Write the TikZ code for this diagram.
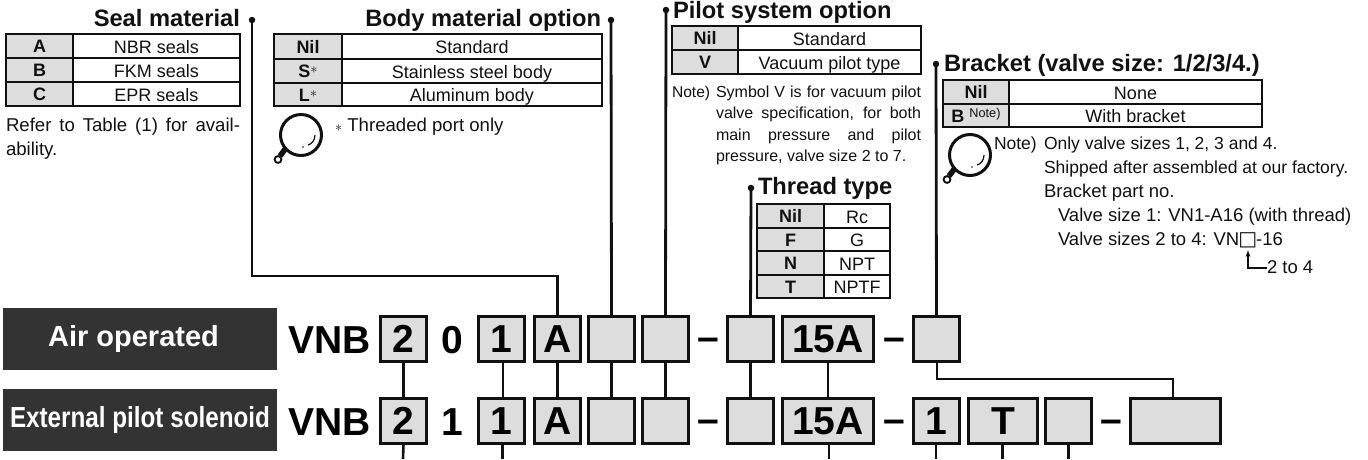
\documentclass[tikz,border=0pt]{standalone}
\usepackage{fontspec}
\setmainfont{Liberation Sans}
\newfontfamily\djv{DejaVu Sans}
\definecolor{keyfill}{HTML}{DDDDDD}
\definecolor{darkfill}{HTML}{333333}
\definecolor{ink}{HTML}{111111}
\newcommand\fsz[1]{\fontsize{#1}{#1}\selectfont}
\newcount\cellno
\tikzset{
  plain/.style={inner sep=0pt,outer sep=0pt,text=ink},
  tabline/.style={draw=ink,line width=1.2pt},
  tabtop/.style={draw=ink,line width=2.2pt},
  keytext/.style={plain,anchor=base,font=\fsz{18}\bfseries},
  valtext/.style={plain,anchor=base,font=\fsz{18}},
  title/.style={plain,anchor=base west,font=\fsz{23.7}\bfseries},
  titler/.style={plain,anchor=base east,font=\fsz{23.7}\bfseries},
  linetext/.style={plain,anchor=base west,font=\fsz{18.6}},
  notetext/.style={plain,anchor=base west,font=\fsz{16}},
  brtext/.style={plain,anchor=base west,font=\fsz{17.5}},
  brwide/.style={plain,anchor=base west,font=\fsz{18.5}},
  leaddot/.style={circle,fill=ink,minimum size=6.5pt,inner sep=0pt,outer sep=0pt},
  leader/.style={draw=ink,line width=2.8pt},
  link/.style={draw=ink,line width=2.6pt},
  rowbox/.style={draw=ink,fill=keyfill,line width=2.7pt,inner sep=0pt,outer sep=0pt,
    minimum height=45.3pt,text=black,font=\fsz{39}\bfseries,text height=27.9pt,text depth=0pt,align=center},
  rowtext/.style={plain,text=black,anchor=base,font=\fsz{39}\bfseries},
  banner/.style={fill=darkfill,inner sep=0pt,outer sep=0pt,text=white,font=\fsz{29}\bfseries,
    minimum width=274pt,minimum height=62pt}
}
% x0 xdiv x1 y0 y1 key value
\newcommand\trow[7]{%
  \fill[keyfill] (#1,#4) rectangle (#2,#5);
  \draw[tabline] (#1,#4) rectangle (#3,#5);
  \draw[tabline] (#2,#4) -- (#2,#5);
  \global\advance\cellno by 1
  \node[keytext] (k\the\cellno) at ({(#1+#2)/2},{(#4+#5)/2+6.6}) {#6};
  \node[valtext] (v\the\cellno) at ({(#2+#3)/2},{(#4+#5)/2+7}) {#7};
}
\newcommand\lens[2]{%
  \begin{scope}[shift={(#1,#2)}]
    \draw[ink,line width=5.5pt] (-15,13) -- (-21,21);
    \draw[ink,line width=1.9pt,fill=white] (-23,24.5) circle (3.4);
    \draw[ink,line width=3pt,fill=white] (0,0) circle (20.5);
    \draw[ink,line width=1.2pt] (14,0) .. controls (14,5) and (11,9) .. (7,10);
    \fill[ink] (2,12) circle (0.8);
  \end{scope}
}
\newcommand\boxat[5]{\node[rowbox,minimum width={#3-#2-2.7}] (#1) at ({(#2+#3)/2},#4) {#5};}
\newcommand\astr{\raisebox{4pt}{\mdseries\fsz{15}$*$}}
\begin{document}
\begin{tikzpicture}[x=1pt,y=-1pt]
\useasboundingbox (0,0) rectangle (1368,459);
% ---- banners
\node[banner] (air) at (140,339) {Air operated\kern13pt};
\node[banner] (ext) at (140,420) {\scalebox{.836}[1]{External pilot solenoid}};
% ---- code row 1
\node[rowtext] (vnbA) at (329.5,353) {VNB};
\boxat{a2}{379}{428}{339}{2}
\node[rowtext] (zero) at (452.5,353) {0};
\boxat{a1}{477}{526}{339}{1}
\boxat{aA}{533}{582}{339}{A}
\boxat{aB}{587}{636}{339}{}
\boxat{aP}{641}{690}{339}{}
\node[rowtext] (dashA) at (708,350) {–};
\boxat{aT}{726}{775}{339}{}
\boxat{a15}{781}{875}{339}{15A}
\node[rowtext] (dashB) at (894,350) {–};
\boxat{aK}{912}{961}{339}{}
% ---- code row 2
\node[rowtext] (vnbB) at (329.5,435) {VNB};
\boxat{b2}{379}{428}{421}{2}
\node[rowtext] (one) at (452.5,435) {1};
\boxat{b1}{477}{526}{421}{1}
\boxat{bA}{533}{582}{421}{A}
\boxat{bB}{587}{636}{421}{}
\boxat{bP}{641}{690}{421}{}
\node[rowtext] (dashC) at (708,432) {–};
\boxat{bT}{726}{775}{421}{}
\boxat{b15}{781}{875}{421}{15A}
\node[rowtext] (dashD) at (894,432) {–};
\boxat{bS}{912}{961}{421}{1}
\boxat{bV}{967}{1039}{421}{T}
\boxat{bW}{1044}{1093}{421}{}
\node[rowtext] (dashE) at (1111.5,432) {–};
\boxat{bX}{1129}{1222}{421}{}
% ---- links between rows
\draw[link] (a2.south) -- (b2.north);
\draw[link] ([xshift=1.5pt]a1.south) -- ([xshift=1.5pt]b1.north);
\draw[link] (aA.south) -- (bA.north);
\draw[link] (aB.south) -- (bB.north);
\draw[link] (aP.south) -- (bP.north);
\draw[link] (aT.south) -- (bT.north);
\draw[link] (a15.south) -- (b15.north);
\coordinate (elbow) at (937,379);
\draw[leader] ([xshift=.5pt]aK.south) -- ([xshift=.5pt]aK.south |- elbow) -| ([xshift=-2.5pt]bX.north);
% ---- free ends at the bottom
\coordinate (e1) at (403,459); \coordinate (e2) at (502.5,459); \coordinate (e3) at (829,459);
\coordinate (e4) at (936,459); \coordinate (e5) at (1002.5,459); \coordinate (e6) at (1068.5,459);
\draw[link] (b2.south) -- (e1);
\draw[link] (b1.south -| e2) -- (e2);
\draw[link] (b15.south -| e3) -- (e3);
\draw[link] (bS.south -| e4) -- (e4);
\draw[link] (bV.south -| e5) -- (e5);
\draw[link] (bW.south -| e6) -- (e6);
% ---- leaders
\node[leaddot] (d1) at (252,20) {};
\node[leaddot] (d2) at (611,20) {};
\node[leaddot] (d3) at (666,10) {};
\node[leaddot] (d4) at (751,188) {};
\node[leaddot] (d5) at (936,64) {};
\coordinate (k1) at (252,276);
\draw[leader] (d1.center) -- (k1) -| (aA.north);
\draw[leader] (d2.center) -- (aB.north);
\draw[leader] (d3.center) -- (aP.north);
\draw[leader] (d4.center) -- (aT.north);
\draw[leader] (d5.center) -- (aK.north);
% ---- Seal material
\node[titler] (t1) at (240,26) {Seal material};
\trow{6}{73}{240}{34}{58}{A}{NBR seals}
\trow{6}{73}{240}{58}{82}{B}{FKM seals}
\trow{6}{73}{240}{82}{106}{C}{EPR seals}
\draw[tabtop] (6,34) -- (240,34);
\node[linetext] (n1a) at (6,131) {\makebox[234pt][s]{Refer to Table (1) for avail-}};
\node[linetext] (n1b) at (6,155) {ability.};
% ---- Body material
\node[titler] (t2) at (601,26) {Body material option};
\trow{274}{342}{602}{34}{59}{Nil}{Standard}
\trow{274}{342}{602}{59}{83}{S\astr}{Stainless steel body}
\trow{274}{342}{602}{83}{106}{L\astr}{Aluminum body}
\draw[tabtop] (274,34) -- (602,34);
\lens{301}{135}
\node[linetext] (n2) at (335,131) {{\fsz{14}$*$} Threaded port only};
% ---- Pilot system
\node[title] (t3) at (673,18) {Pilot system option};
\trow{672}{738}{921}{26}{50}{Nil}{Standard}
\trow{672}{738}{921}{50}{74}{V}{Vacuum pilot type}
\draw[tabtop] (672,26) -- (921,26);
\node[notetext] (n3a) at (672,97) {\fsz{15.6}Note)};
\node[notetext] (n3b) at (716,97) {\makebox[205pt][s]{Symbol V is for vacuum pilot}};
\node[notetext] (n3c) at (716,118) {\makebox[205pt][s]{valve specification, for both}};
\node[notetext] (n3d) at (716,140) {\makebox[205pt][s]{main pressure and pilot}};
\node[notetext] (n3e) at (716,161) {pressure, valve size 2 to 7.};
% ---- Thread type
\node[title] (t4) at (758,194) {Thread type};
\trow{757}{824}{890}{204}{228}{Nil}{Rc}
\trow{757}{824}{890}{228}{251}{F}{G}
\trow{757}{824}{890}{251}{275}{N}{NPT}
\trow{757}{824}{890}{275}{298}{T}{NPTF}
\draw[tabtop] (757,204) -- (890,204);
% ---- Bracket
\node[title] (t5) at (944,71) {Bracket (valve size: 1/2/3/4.)};
\trow{943}{1009}{1262}{80}{104}{Nil}{None}
\trow{943}{1009}{1262}{104}{127}{B \raisebox{4.5pt}{\fsz{12.7}\mdseries Note)}}{With bracket}
\draw[tabtop] (943,80) -- (1262,80);
\lens{970}{155}
\node[brtext] (n5a) at (994,149) {Note)};
\node[brtext] (n5b) at (1044,149) {Only valve sizes 1, 2, 3 and 4.};
\node[brtext] (n5c) at (1044,173) {Shipped after assembled at our factory.};
\node[brwide] (n5d) at (1044,197) {Bracket part no.};
\node[brwide] (n5e) at (1058,221) {Valve size 1: VN1-A16 (with thread)};
\node[brwide] (n5f) at (1058,245) {Valve sizes 2 to 4: VN\kern-1pt{\djv\fsz{20}□}\kern-1pt-16};
\node[brwide] (n5g) at (1267,273) {2 to 4};
\coordinate (tip) at (1248,250);
\draw[draw=ink,line width=1.2pt,-latex] (n5g.west |- 0,268) -| (tip);
\end{tikzpicture}
\end{document}
